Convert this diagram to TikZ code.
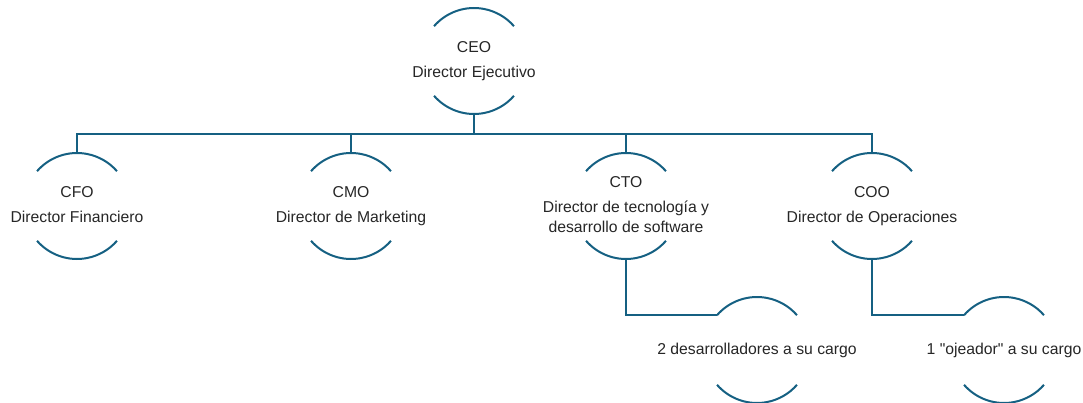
\documentclass[tikz,border=0pt]{standalone}
\usepackage{fontspec}
\setmainfont{Liberation Sans}
\definecolor{orgline}{HTML}{156082}
\newcommand{\rolename}[2]{\makebox[0pt]{\begin{tabular}{@{}c@{}}#1\\[4.5pt]#2\end{tabular}}}
\newcommand{\roleone}[1]{\makebox[0pt]{#1}}
\tikzset{
  role/.style={circle,minimum size=79.5pt,inner sep=0pt,outer sep=0pt,
    font=\fontsize{11.8pt}{14.5pt}\selectfont,text=black!85},
  link/.style={orgline,line width=1.5pt},
}
\begin{document}
\begin{tikzpicture}[x=0.75pt,y=-0.75pt]
\useasboundingbox (0,0) rectangle (1083,403);
% people
\node[role] (ceo) at (474,61) {\rolename{CEO}{Director Ejecutivo}};
\node[role] (cfo) at (77,206) {\rolename{CFO}{Director Financiero}};
\node[role] (cmo) at (351,206) {\rolename{CMO}{Director de Marketing}};
\node[role] (cto) at (626,206) {\rolename{CTO}{Director de tecnología y\\desarrollo de software}};
\node[role] (coo) at (872,206) {\rolename{COO}{Director de Operaciones}};
\node[role] (dev) at (757,350) {\roleone{2 desarrolladores a su cargo}};
\node[role] (scout) at (1004,350) {\roleone{1 \textquotedbl ojeador\textquotedbl{} a su cargo}};
% arcs above and below each one
\foreach \n in {ceo,cfo,cmo,cto,coo,dev,scout} {
  \draw[link] (\n.139) arc[start angle=139,end angle=41,radius=39.75pt];
  \draw[link] (\n.221) arc[start angle=221,end angle=319,radius=39.75pt];
}
% lines
\coordinate (bus) at (474,134);
\draw[link] (ceo.south) -- (bus);
\draw[link] (cfo.north) |- (bus) -| (coo.north);
\draw[link] (cmo.north) -- (cmo.north |- bus);
\draw[link] (cto.north) -- (cto.north |- bus);
\draw[link] (cto.south) |- (dev.139);
\draw[link] (coo.south) |- (scout.139);
\end{tikzpicture}
\end{document}
